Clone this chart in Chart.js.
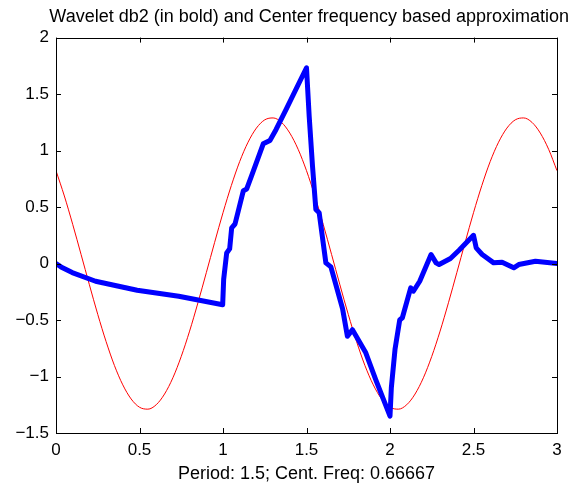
<!DOCTYPE html>
<html>
<head>
<meta charset="utf-8">
<script src="https://cdn.jsdelivr.net/npm/chart.js@4/dist/chart.umd.min.js"></script>
<style>
  html, body { margin: 0; padding: 0; background: #fff; }
</style>
</head>
<body>
<canvas id="chart" width="576" height="487"></canvas>
<script>
// db2 wavelet (bold blue)
const waveX = [0.000, 0.030, 0.097, 0.237, 0.486, 0.735, 0.998, 1.004, 1.022, 1.040, 1.052, 1.072,
               1.122, 1.142, 1.172, 1.241, 1.281, 1.318, 1.378, 1.500, 1.516, 1.536, 1.556, 1.576,
               1.616, 1.646, 1.716, 1.745, 1.775, 1.855, 1.915, 2.000, 2.008, 2.030, 2.058, 2.074,
               2.124, 2.140, 2.178, 2.246, 2.276, 2.294, 2.362, 2.415, 2.500, 2.516, 2.552, 2.621,
               2.671, 2.741, 2.771, 2.871, 3.000];
const waveY = [0.00, -0.03, -0.08, -0.157, -0.236, -0.29, -0.365, -0.14, 0.094, 0.13, 0.316, 0.35,
               0.645, 0.66, 0.78, 1.06, 1.09, 1.187, 1.364, 1.733, 1.305, 0.862, 0.478, 0.449,
               0.006, -0.03, -0.40, -0.644, -0.585, -0.79, -1.03, -1.35, -1.10, -0.76, -0.50, -0.48,
               -0.215, -0.245, -0.157, 0.08, 0.006, -0.009, 0.045, 0.12, 0.25, 0.139, 0.08, 0.006,
               0.012, -0.038, -0.009, 0.02, 0.00];

// centre frequency approximation (thin red)
const approxX = [0.00, 0.05, 0.10, 0.15, 0.20, 0.25, 0.30, 0.35, 0.40, 0.45, 0.50, 0.55, 0.60, 0.65, 0.70,
                 0.75, 0.80, 0.85, 0.90, 0.95, 1.00, 1.05, 1.10, 1.15, 1.20, 1.25, 1.30, 1.35, 1.40, 1.45,
                 1.50, 1.55, 1.60, 1.65, 1.70, 1.75, 1.80, 1.85, 1.90, 1.95, 2.00, 2.05, 2.10, 2.15, 2.20,
                 2.25, 2.30, 2.35, 2.40, 2.45, 2.50, 2.55, 2.60, 2.65, 2.70, 2.75, 2.80, 2.85, 2.90, 2.95,
                 3.00];
const approxY = [0.822, 0.598, 0.347, 0.081, -0.188, -0.450, -0.691, -0.903, -1.074, -1.199, -1.272, -1.289,
                 -1.250, -1.155, -1.011, -0.822, -0.598, -0.347, -0.081, 0.188, 0.450, 0.691, 0.903, 1.074,
                 1.199, 1.272, 1.289, 1.250, 1.155, 1.011,
                 0.822, 0.598, 0.347, 0.081, -0.188, -0.450, -0.691, -0.903, -1.074, -1.199, -1.272, -1.289,
                 -1.250, -1.155, -1.011, -0.822, -0.598, -0.347, -0.081, 0.188, 0.450, 0.691, 0.903, 1.074,
                 1.199, 1.272, 1.289, 1.250, 1.155, 1.011, 0.822];

const xTicks = [0, 0.5, 1, 1.5, 2, 2.5, 3];
const yTicks = [-1.5, -1, -0.5, 0, 0.5, 1, 1.5, 2];

const FONT = 'Liberation Sans, Arial, Helvetica, sans-serif';

// matlab style box with inward ticks on all four sides
const boxPlugin = {
    id: 'matlabBox',
    afterDatasetsDraw(chart) {
        const { ctx, chartArea: a, scales: { x, y } } = chart;
        ctx.save();
        ctx.strokeStyle = '#000';
        ctx.lineWidth = 1;
        ctx.beginPath();
        xTicks.forEach(v => {
            const px = Math.round(x.getPixelForValue(v)) + 0.5;
            ctx.moveTo(px, a.bottom); ctx.lineTo(px, a.bottom - 5);
            ctx.moveTo(px, a.top); ctx.lineTo(px, a.top + 5);
        });
        yTicks.forEach(v => {
            const py = Math.round(y.getPixelForValue(v)) + 0.5;
            ctx.moveTo(a.left, py); ctx.lineTo(a.left + 5, py);
            ctx.moveTo(a.right, py); ctx.lineTo(a.right - 5, py);
        });
        ctx.stroke();
        ctx.strokeRect(Math.round(a.left) + 0.5, Math.round(a.top) + 0.5,
                       Math.round(a.width), Math.round(a.height));
        ctx.restore();
    }
};

const toPoints = (xs, ys) => xs.map((v, i) => ({ x: v, y: ys[i] }));

new Chart(document.getElementById('chart').getContext('2d'), {
    type: 'line',
    data: {
        datasets: [{
            label: 'db2',
            data: toPoints(waveX, waveY),
            borderColor: '#0000ff',
            borderWidth: 5,
            pointRadius: 0,
            tension: 0,
            borderJoinStyle: 'round',
            borderCapStyle: 'round'
        }, {
            label: 'approximation',
            data: toPoints(approxX, approxY),
            borderColor: '#ff0000',
            borderWidth: 1,
            pointRadius: 0,
            cubicInterpolationMode: 'monotone'
        }]
    },
    options: {
        responsive: false,
        animation: false,
        events: [],
        layout: { padding: { left: 0, right: 7, top: 0, bottom: 0 } },
        plugins: {
            legend: { display: false },
            tooltip: { enabled: false },
            title: {
                display: true,
                align: 'end',
                text: 'Wavelet db2 (in bold) and Center frequency based approximation',
                color: '#000',
                font: { family: FONT, size: 18, weight: 'normal' },
                padding: { top: 6, bottom: 10 }
            }
        },
        scales: {
            x: {
                type: 'linear',
                min: 0, max: 3,
                afterBuildTicks: s => { s.ticks = xTicks.map(v => ({ value: v })); },
                afterFit: s => { s.height = 54; },
                grid: { display: false, drawTicks: false },
                border: { display: false },
                ticks: {
                    color: '#000', padding: 7, maxRotation: 0,
                    font: { family: FONT, size: 17 },
                    callback: v => String(v)
                },
                title: {
                    display: true,
                    text: 'Period: 1.5; Cent. Freq: 0.66667',
                    color: '#000',
                    font: { family: FONT, size: 18 },
                    padding: { top: 0, bottom: 2 }
                }
            },
            y: {
                type: 'linear',
                min: -1.5, max: 2,
                afterBuildTicks: s => { s.ticks = yTicks.map(v => ({ value: v })); },
                afterFit: s => { s.width = 56; },
                grid: { display: false, drawTicks: false },
                border: { display: false },
                ticks: {
                    color: '#000', padding: 7,
                    font: { family: FONT, size: 17 },
                    callback: v => String(v).replace('-', '\u2212')
                }
            },
            // empty right axis, only keeps the right edge of the box in place
            yRight: {
                type: 'linear',
                position: 'right',
                min: -1.5, max: 2,
                afterFit: s => { s.width = 12; },
                grid: { display: false, drawTicks: false },
                border: { display: false },
                ticks: { display: false }
            }
        }
    },
    plugins: [boxPlugin]
});
</script>
</body>
</html>
